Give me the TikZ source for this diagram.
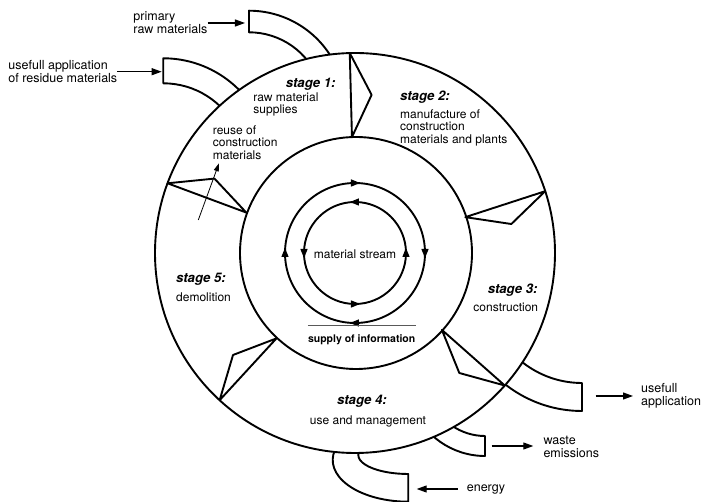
\documentclass[tikz,border=0pt]{standalone}
\usepackage{fontspec}
\setmainfont{TeX Gyre Heros}
\usetikzlibrary{arrows.meta}

\begin{document}
\begin{tikzpicture}[x=1pt,y=1pt,line join=round,
  ring/.style={line width=1.9pt},
  stagelbl/.style={inner sep=0pt,font=\fontsize{13.2}{15}\selectfont\bfseries\itshape},
  desc/.style={inner sep=0pt,align=left,font=\fontsize{12}{12.3}\selectfont},
  outtxt/.style={inner sep=0pt,align=left,font=\fontsize{12.5}{13}\selectfont},
  flow/.style={line width=1.1pt,-{Triangle[length=10pt,width=7pt]}}]
\useasboundingbox (-355,-249) rectangle (347,253);

\draw[ring] (-106,146) ++(20:74.7) arc[start angle=20,end angle=90,radius=74.7] -- ++(0,21.6) arc[start angle=90,end angle=20,radius=96.3];
\draw[ring] (-191.7,88) ++(25:81.7) arc[start angle=25,end angle=90,radius=81.7] -- ++(0,25) arc[start angle=90,end angle=25,radius=106.7];
\draw[ring] (227,-34) ++(200:96) arc[start angle=200,end angle=270,radius=96] -- ++(0,-28) arc[start angle=270,end angle=200,radius=124];
\draw[ring] (130,-125) ++(200:58) arc[start angle=200,end angle=270,radius=58] -- ++(0,-20) arc[start angle=270,end angle=200,radius=78];
\draw[ring] (53.3,-202) ++(165:50 and 19) arc[start angle=165,end angle=270,x radius=50,y radius=19] -- ++(0,-27.7) arc[start angle=270,end angle=160,x radius=75.6,y radius=41.7];

\draw[ring,fill=white] (0,0) circle[radius=200];
\draw[ring] (1,0) circle[radius=116];
\foreach \a in {91.5,18,-41.5,-132.6,159.6}
  \draw[ring] (\a:200) -- (\a-7.5:159) -- (\a:116) -- cycle;

\draw[ring] (0,0) circle[radius=70];
\draw[ring] (0,0) circle[radius=51];
\foreach \a in {0,90,180,270}{
  \fill[rotate=\a] (70,-5) -- (66.3,4) -- (73.7,4) -- cycle;
  \fill[rotate=\a] (51,5) -- (47.3,-4) -- (54.7,-4) -- cycle;
}

\node[outtxt,anchor=west] (primary) at (-221.7,230) {primary\\raw materials};
\node[outtxt,anchor=west] (residue) at (-346.7,181.3) {usefull application\\of residue materials};
\node[stagelbl,anchor=west] (st1) at (-69.3,168.8) {stage 1:};
\node[desc,anchor=west] (d1) at (-101.7,148.7) {raw material\\supplies};
\node[desc,anchor=west] (reuse) at (-142.3,110.3) {reuse of\\construction\\materials};
\node[stagelbl,anchor=west] (st2) at (45,155.5) {stage 2:};
\node[desc,anchor=west] (d2) at (45,125.3) {manufacture of\\construction\\materials and plants};
\node[stagelbl,anchor=east] (st3) at (182.7,-36.8) {stage 3:};
\node[desc,anchor=east] (d3) at (183.3,-54.7) {construction};
\node[stagelbl] (st4) at (7,-148) {stage 4:};
\node[desc] (d4) at (13,-168) {use and management};
\node[stagelbl,anchor=west] (st5) at (-179,-26.2) {stage 5:};
\node[desc,anchor=west] (d5) at (-179,-44.2) {demolition};
\node[desc] (stream) at (0,-1.3) {material stream};
\node[inner sep=0pt,font=\fontsize{10.5}{12}\selectfont\bfseries] (info) at (6.7,-87) {supply of information};
\draw[gray!70!black,line width=0.6pt] ([yshift=9pt]info.north west) -- ([yshift=9pt]info.north east);
\node[outtxt,anchor=west] (useful) at (286,-142.5) {usefull\\application};
\node[outtxt,anchor=west] (waste) at (188.3,-193.7) {waste\\emissions};
\node[outtxt,anchor=west] (energy) at (111.7,-236) {energy};

\coordinate (mouthA) at (-110,229.7);
\coordinate (mouthB) at (-193.3,182.3);
\coordinate (mouthC) at (240.7,-143);
\coordinate (mouthD) at (136.7,-193);
\coordinate (mouthE) at (61.7,-236.3);
\coordinate (reuseTail) at (-156.7,33);
\coordinate (reuseTip) at (-136,89.7);

\draw[flow] (primary.east) -- (mouthA |- primary.east);
\draw[flow] (residue.east) -- (mouthB |- residue.east);
\draw[flow,shorten >=8pt] (mouthC) -- (useful.west |- mouthC);
\draw[flow,shorten >=10pt] (mouthD) -- (waste.west |- mouthD);
\draw[flow,shorten <=9pt] (energy.west) -- (mouthE |- energy.west);
\draw[line width=0.8pt,-{Triangle[length=8pt,width=5pt]}] (reuseTail) -- (reuseTip);
\end{tikzpicture}
\end{document}
